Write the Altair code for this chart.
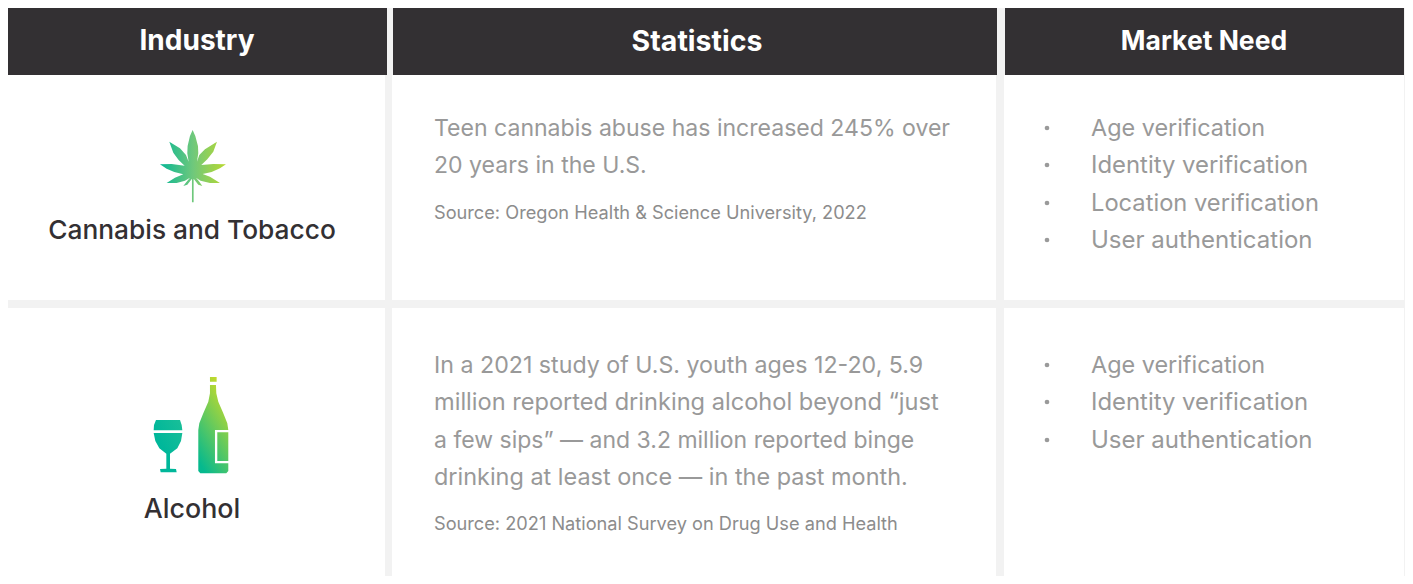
import altair as alt
import pandas as pd

FONT = "Inter"
BG = "#f2f2f2"

# --- table content ---
headers = ["Industry", "Statistics", "Market Need"]
industries = ["Cannabis and Tobacco", "Alcohol"]
stats_lines = [
    "Teen cannabis abuse has increased 245% over",
    "20 years in the U.S.",
    "In a 2021 study of U.S. youth ages 12-20, 5.9",
    "million reported drinking alcohol beyond “just",
    "a few sips” — and 3.2 million reported binge",
    "drinking at least once — in the past month.",
]
sources = [
    "Source: Oregon Health & Science University, 2022",
    "Source: 2021 National Survey on Drug Use and Health",
]
needs = [
    "Age verification", "Identity verification", "Location verification", "User authentication",
    "Age verification", "Identity verification", "User authentication",
]

# --- layout (page pixels) ---
header_x = [(7, 387), (393, 997), (1005, 1404)]
header_cx = [197, 697, 1204]
header_y = [41.5, 41.5, 41.5]
cell_x = [(5, 385), (392, 996), (1004, 1404)]
row_y = [(75, 300), (308, 584)]
industry_cx = [192, 192]
industry_y = [231, 510]
stats_y = [129, 166, 366, 403, 441, 478]
source_y = [214, 525]
needs_y = [129, 166, 204, 241, 366, 403, 441]
bullet_y = [128, 165, 203, 240, 365, 402, 440]

# --- font sizes, per line, to fit the reference's line widths ---
header_size = [28, 28.5, 26.5]
industry_size = [26.3, 26.8]
stats_size = [23.05, 23.05, 23.2, 23.6, 23.0, 23.45]
source_size = [18.2, 18.2]
needs_size = [23.4, 23.9, 23.7, 24, 23.4, 23.9, 24]

xs = alt.Scale(domain=[8, 1405], nice=False, zero=False)
ys = alt.Scale(domain=[576, 8], nice=False, zero=False)
X = lambda f: alt.X(f, type="quantitative", scale=xs, axis=None)
Y = lambda f: alt.Y(f, type="quantitative", scale=ys, axis=None)

cells = pd.DataFrame(
    [{"x": a, "x2": b, "y": c, "y2": d} for (a, b) in cell_x for (c, d) in row_y]
)
heads = pd.DataFrame(
    [{"x": a, "x2": b, "y": 7, "y2": 75} for (a, b) in header_x]
)


def rects(df, color):
    return alt.Chart(df).mark_rect(color=color, stroke=None).encode(
        x=X("x"), x2=alt.X2("x2"), y=Y("y"), y2=alt.Y2("y2")
    )


def texts(labels, x, y, sizes, color, weight=400, align="left"):
    df = pd.DataFrame({"label": labels, "x": x, "y": y, "fs": sizes})
    return alt.Chart(df).mark_text(
        font=FONT, color=color, fontWeight=weight,
        align=align, baseline="middle",
    ).encode(
        x=X("x"), y=Y("y"), text="label:N",
        size=alt.Size("fs:Q", scale=None, legend=None),
    )


# --- icons (outlines in zoom-crop coordinates, 3x the page pixels) ---
def to_path(polys, cx, cy):
    out = []
    for poly in polys:
        pts = [f"{(px - cx) / 3 / 50:.4f},{(py - cy) / 3 / 50:.4f}" for px, py in poly]
        out.append("M" + "L".join(pts) + "Z")
    return "".join(out)


leaf = [[
    (188, 60), (196, 78), (204, 108), (205, 130), (201, 155), (208, 135), (225, 118),
    (261, 95), (250, 125), (232, 148), (214, 165), (250, 162), (288, 163), (270, 175),
    (245, 186), (218, 192), (240, 200), (270, 219), (240, 219), (212, 212), (198, 203),
    (208, 215), (217, 228), (205, 224), (191, 206), (191, 277), (186, 277), (186, 206),
    (172, 224), (160, 228), (170, 215), (180, 203), (165, 212), (140, 219), (110, 219),
    (135, 203), (160, 193), (133, 186), (110, 176), (90, 163), (125, 162), (164, 167),
    (146, 150), (130, 128), (118, 95), (150, 115), (168, 135), (176, 155), (172, 130),
    (173, 108), (180, 78),
]]
glass = [
    [(78, 165), (150, 165), (155, 180), (157, 196), (71, 196), (72, 180)],
    [(71, 204), (157, 204), (153, 228), (142, 250), (120, 266), (120, 311),
     (138, 312), (140, 322), (92, 322), (90, 312), (109, 311), (109, 266),
     (88, 250), (76, 228)],
]
bottle = [
    [(240, 36), (260, 36), (260, 50), (240, 50)],
    [(240, 60), (258, 60), (259, 85), (265, 110), (280, 145), (292, 175), (295, 195),
     (255, 195), (255, 295), (295, 295), (295, 318), (289, 325), (211, 325), (205, 318),
     (205, 195), (208, 175), (220, 145), (235, 110), (240, 85)],
    [(262, 202), (295, 202), (295, 288), (262, 288)],
]

icons = [
    (leaf, 190, 169, 193.3, 166.3,
     [("#07b795", 0), ("#6fc87c", 0.5), ("#b9d92f", 1)], (0, 0, 1, 0)),
    (glass, 114, 244, 168, 446.3,
     [("#1abf98", 0), ("#00b79a", 0.6)], (1, 0, 0, 1)),
    (bottle, 250, 180, 213.3, 425,
     [("#cfdc26", 0), ("#05b98e", 1)], (0.75, 0, 0.25, 1)),
]
icon_layers = []
for polys, cx, cy, px, py, stops, (x1, y1, x2, y2) in icons:
    fill = alt.LinearGradient(
        gradient="linear", x1=x1, y1=y1, x2=x2, y2=y2,
        stops=[alt.GradientStop(color=c, offset=o) for c, o in stops],
    )
    icon_layers.append(
        alt.Chart(pd.DataFrame({"x": [px], "y": [py]})).mark_point(
            shape=to_path(polys, cx, cy), size=10000, filled=True, opacity=1,
            fill=fill, stroke=None, strokeWidth=0,
        ).encode(x=X("x"), y=Y("y"))
    )

bullets = alt.Chart(pd.DataFrame({"x": [1047] * len(bullet_y), "y": bullet_y})).mark_point(
    shape="circle", size=22, filled=True, opacity=1, color="#9a9a9a"
).encode(x=X("x"), y=Y("y"))

chart = alt.layer(
    rects(cells, "#ffffff"),
    rects(heads, "#333033"),
    texts(headers, header_cx, header_y, header_size, "#ffffff", 700, "center"),
    texts(industries, industry_cx, industry_y, industry_size, "#333033", 500, "center"),
    texts(stats_lines, [434] * 6, stats_y, stats_size, "#999999"),
    texts(sources, [434] * 2, source_y, source_size, "#8c8c8c"),
    bullets,
    texts(needs, [1091] * 7, needs_y, needs_size, "#999999"),
    *icon_layers,
).properties(
    width=1397, height=568, background=BG, padding=0,
    autosize=alt.AutoSizeParams(type="none"),
).configure_view(stroke=None)

chart.save("out.html", embed_options={"renderer": "svg", "actions": False})
